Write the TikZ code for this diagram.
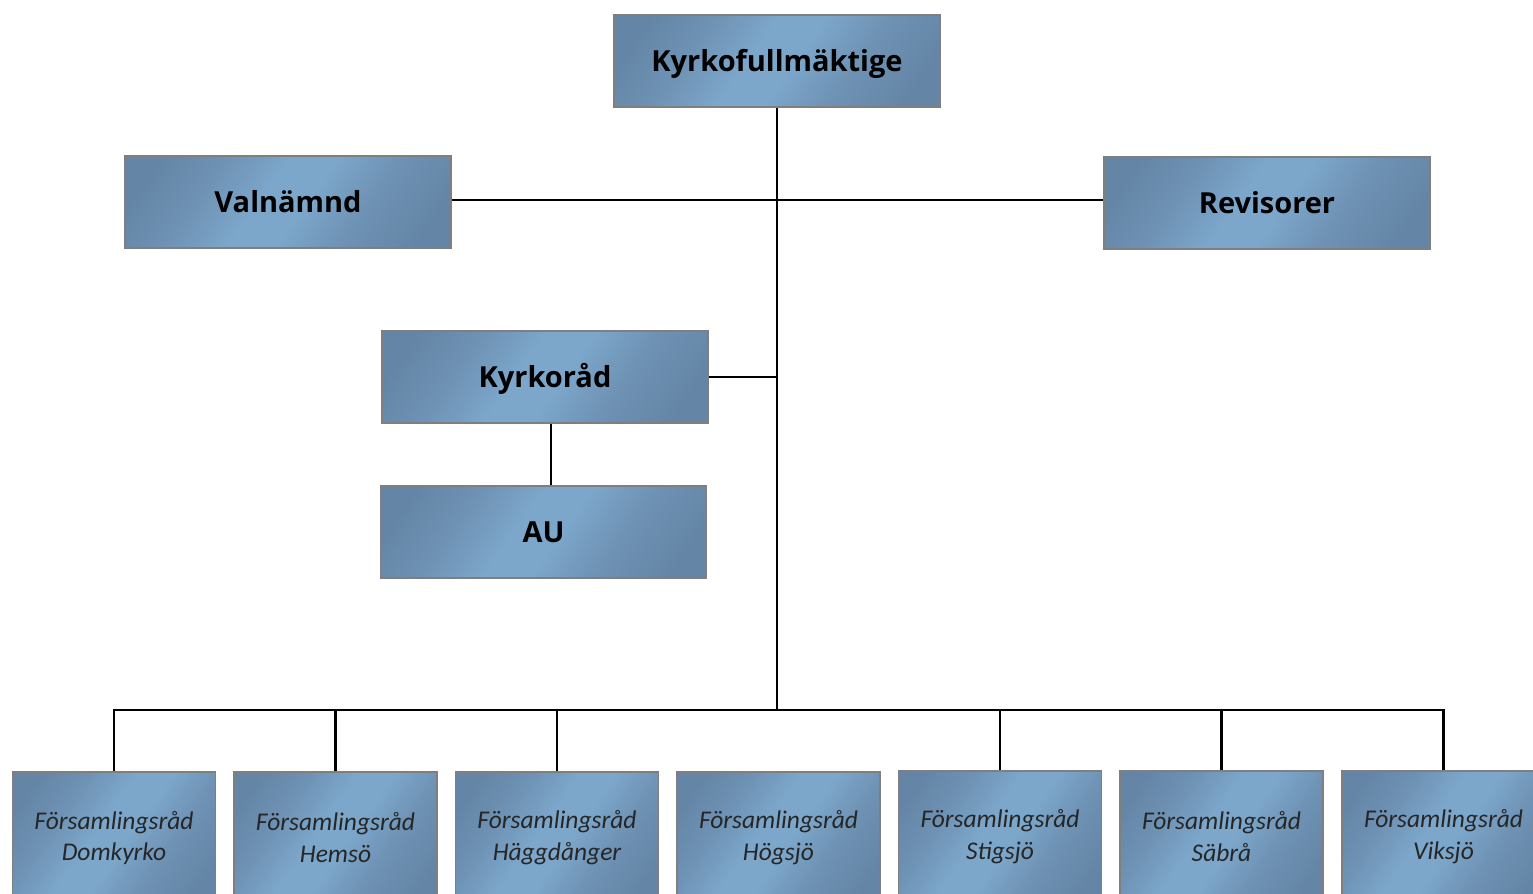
\documentclass[tikz,border=0pt]{standalone}
\usepackage{fontspec}
\setmainfont{Carlito}
\newfontfamily\boxbold{Open Sans}
\definecolor{bxdark}{HTML}{6485A6}
\definecolor{bxmid}{HTML}{6F93B5}
\definecolor{bxlight}{HTML}{7CA7CB}
\definecolor{bxedge}{HTML}{7F7F7F}
\definecolor{subtext}{HTML}{262626}
\pgfdeclareverticalshading{metalblue}{100bp}{color(0bp)=(bxdark); color(22bp)=(bxdark); color(36bp)=(bxmid); color(47bp)=(bxlight); color(55bp)=(bxlight); color(66bp)=(bxmid); color(78bp)=(bxdark); color(100bp)=(bxdark)}
\tikzset{
  boxbase/.style={rectangle, draw=bxedge, line width=0.8pt, shading=metalblue, shading angle=55, inner sep=0pt, align=center},
  topbox/.style={boxbase, minimum width=6.52cm, minimum height=1.84cm, text height=11.6pt, text depth=0pt, font=\boxbold\fontsize{16.5}{20}\selectfont\bfseries, text=black},
  subbox/.style={boxbase, minimum width=4.06cm, minimum height=2.64cm, font=\fontsize{14.5}{18.2}\selectfont\itshape, text=subtext},
  link/.style={draw=black, line width=1.4pt}
}
\begin{document}
\begin{tikzpicture}[x=0.02cm, y=-0.02cm]
\useasboundingbox (0,0) rectangle (1533,893);
\clip (0,0) rectangle (1533,893);
\node[topbox] (kf) at (777,61) {Kyrkofullmäktige};
\node[topbox] (val) at (288,202) {Valnämnd};
\node[topbox] (rev) at (1267,203) {Revisorer};
\node[topbox] (kr) at (545,377) {Kyrkoråd};
\node[topbox] (au) at (543.5,532) {AU};
\coordinate (jn) at (777,200);
\coordinate (bus) at (777,710);
\node[subbox] (d1) at (114,838) {Församlingsråd\\Domkyrko};
\node[subbox] (d2) at (335.5,838) {Församlingsråd\\Hemsö};
\node[subbox] (d3) at (557,838) {Församlingsråd\\Häggdånger};
\node[subbox] (d4) at (778.5,838) {Församlingsråd\\Högsjö};
\node[subbox] (d5) at (1000,837) {Församlingsråd\\Stigsjö};
\node[subbox] (d6) at (1221.5,837) {Församlingsråd\\Säbrå};
\node[subbox] (d7) at (1443.5,837) {Församlingsråd\\Viksjö};
\draw[link] (kf.south) -- (bus);
\draw[link] (val.east |- jn) -- (rev.west |- jn);
\draw[link] (kr.east) -- (kr.east -| jn);
\draw[link] ([xshift=0.12cm]kr.south) -- ([xshift=0.12cm]kr.south |- au.north);
\draw[link] (d1.north) -- (d1.north |- bus) -- (d7.north |- bus) -- (d7.north);
\foreach \d in {d2,d3,d5,d6} { \draw[link] (\d.north) -- (\d.north |- bus); }
\end{tikzpicture}
\end{document}
